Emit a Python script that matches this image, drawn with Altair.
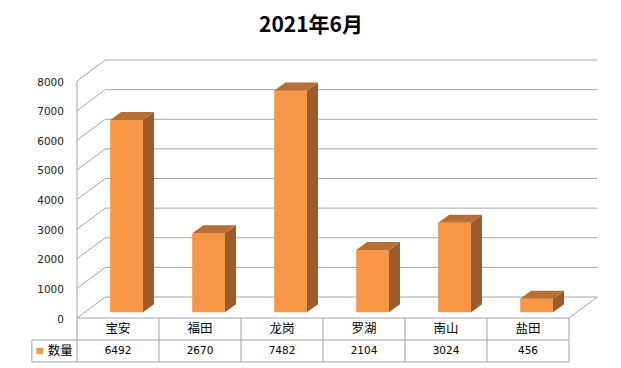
import altair as alt
import pandas as pd

# ---- data ----
title_text = "2021年6月"
series_name = "数量"
categories = ["宝安", "福田", "龙岗", "罗湖", "南山", "盐田"]
values = [6492, 2670, 7482, 2104, 3024, 456]
y_ticks = [0, 1000, 2000, 3000, 4000, 5000, 6000, 7000, 8000]

# ---- style / geometry ----
FRONT = "#F79646"
TOP = "#B86F35"
SIDE = "#9C5B28"
GRID = "#a6a6a6"
TABLE = "#a0a0a0"
CJK = "Noto Sans CJK SC"
NUM = "DejaVu Sans"

n = len(categories)
ymax = max(y_ticks)
back_dx = 0.345            # wall depth (category widths)
back_dy = 0.0886 * ymax    # wall depth (value units)
bar_l, bar_r = 0.405, 0.805
bar_dx = 0.134
bar_dy = 0.034 * ymax
bar_base = 0.024 * ymax
row_h = 0.0928 * ymax
legend_left = -0.55

XD = [-0.695, n + 0.5]
YD = [-0.2025 * ymax, 1.1308 * ymax]


def X(field="x"):
    return alt.X(f"{field}:Q", scale=alt.Scale(domain=XD, nice=False, zero=False), axis=None)


def Y(field="y"):
    return alt.Y(f"{field}:Q", scale=alt.Scale(domain=YD, nice=False, zero=False), axis=None, stack=None)


# back wall gridlines
grid_df = pd.DataFrame({"x": back_dx, "x2": n + back_dx,
                        "y": [t + back_dy for t in y_ticks]})
grid = alt.Chart(grid_df).mark_rule(color=GRID, strokeWidth=1).encode(
    x=X(), x2="x2:Q", y=Y())

# left diagonals
diag_df = pd.DataFrame({"x": 0.0, "x2": back_dx, "y": y_ticks,
                        "y2": [t + back_dy for t in y_ticks]})
diag = alt.Chart(diag_df).mark_rule(color=GRID, strokeWidth=1).encode(
    x=X(), x2="x2:Q", y=Y(), y2="y2:Q")

# front vertical axis line and floor right diagonal
edge_df = pd.DataFrame({"x": [0.0, n], "x2": [0.0, n + back_dx],
                        "y": [0.0, 0.0], "y2": [ymax, back_dy]})
edges = alt.Chart(edge_df).mark_rule(color=GRID, strokeWidth=1).encode(
    x=X(), x2="x2:Q", y=Y(), y2="y2:Q")

# y labels
ylab_df = pd.DataFrame({"x": 0.0, "y": y_ticks, "t": [str(t) for t in y_ticks]})
ylabels = alt.Chart(ylab_df).mark_text(align="right", baseline="middle", dx=-13, dy=1.5,
                                       font=NUM, fontSize=10.5, color="#222222").encode(
    x=X(), y=Y(), text="t:N")

# bars: front faces
bars_df = pd.DataFrame({"i": range(n), "cat": categories, "v": values})
bars_df["x1"] = bars_df["i"] + bar_l
bars_df["x2"] = bars_df["i"] + bar_r
bars_df["base"] = bar_base
bars_df["top"] = bar_base + bars_df["v"]
front = alt.Chart(bars_df).mark_rect(color=FRONT).encode(
    x=X("x1"), x2="x2:Q", y=Y("base"), y2="top:Q")

# side and top faces
side_rows = []
top_rows = []
for i, v in enumerate(values):
    xr = i + bar_r
    side_rows.append({"id": i, "x": xr, "y": bar_base, "y2": bar_base + v})
    side_rows.append({"id": i, "x": xr + bar_dx, "y": bar_base + bar_dy,
                      "y2": bar_base + v + bar_dy})
    top_rows.append({"id": i, "y": bar_base + v, "x": i + bar_l, "x2": i + bar_r})
    top_rows.append({"id": i, "y": bar_base + v + bar_dy, "x": i + bar_l + bar_dx,
                     "x2": i + bar_r + bar_dx})
side = alt.Chart(pd.DataFrame(side_rows)).mark_area(color=SIDE, orient="vertical").encode(
    x=X(), y=Y(), y2="y2:Q", detail="id:N")
topf = alt.Chart(pd.DataFrame(top_rows)).mark_area(color=TOP, orient="horizontal").encode(
    y=alt.Y("y:Q", scale=alt.Scale(domain=YD, nice=False, zero=False), axis=None),
    x=alt.X("x:Q", scale=alt.Scale(domain=XD, nice=False, zero=False), axis=None, stack=None),
    x2="x2:Q", detail="id:N")

# data table lines
h_df = pd.DataFrame({"x": [0.0, legend_left, legend_left], "x2": [n, n, n],
                     "y": [0.0, -row_h, -2 * row_h]})
hlines = alt.Chart(h_df).mark_rule(color=TABLE, strokeWidth=1).encode(
    x=X(), x2="x2:Q", y=Y())
v_df = pd.DataFrame({"x": [float(k) for k in range(n + 1)] + [legend_left],
                     "y": [0.0] * (n + 1) + [-row_h],
                     "y2": [-2 * row_h] * (n + 2)})
vlines = alt.Chart(v_df).mark_rule(color=TABLE, strokeWidth=1).encode(
    x=X(), y=Y(), y2="y2:Q")

# table text
cat_df = pd.DataFrame({"x": [k + 0.5 for k in range(n)], "y": -0.5 * row_h,
                       "t": categories})
cat_text = alt.Chart(cat_df).mark_text(font=CJK, fontSize=12.5, color="black",
                                       baseline="middle").encode(
    x=X(), y=Y(), text="t:N")
val_df = pd.DataFrame({"x": [k + 0.5 for k in range(n)], "y": -1.5 * row_h,
                       "t": [str(v) for v in values]})
val_text = alt.Chart(val_df).mark_text(font=NUM, fontSize=10.5, color="black",
                                       baseline="middle").encode(
    x=X(), y=Y(), text="t:N")

leg_df = pd.DataFrame({"x": [legend_left + 0.095], "y": [-1.5 * row_h], "t": [series_name]})
leg_sq = alt.Chart(leg_df).mark_square(color=FRONT, size=42, opacity=1).encode(
    x=X(), y=Y())
leg_txt = alt.Chart(leg_df).mark_text(font=CJK, fontSize=12.5, color="black", align="left",
                                      baseline="middle", dx=8).encode(
    x=X(), y=Y(), text="t:N")

chart = alt.layer(
    grid, diag, edges, ylabels, front, side, topf,
    hlines, vlines, cat_text, val_text, leg_sq, leg_txt
).properties(
    width=590, height=316,
    autosize=alt.AutoSizeParams(type="none"),
    padding={"left": 12, "top": 42, "right": 3, "bottom": 2},
    title=alt.TitleParams(title_text, font=CJK, fontSize=21, fontWeight="bold",
                          anchor="middle", offset=14, dx=-4, color="black"),
    background="white",
).configure_view(stroke=None)

chart.save("out.html", embed_options={"renderer": "svg", "actions": False})
